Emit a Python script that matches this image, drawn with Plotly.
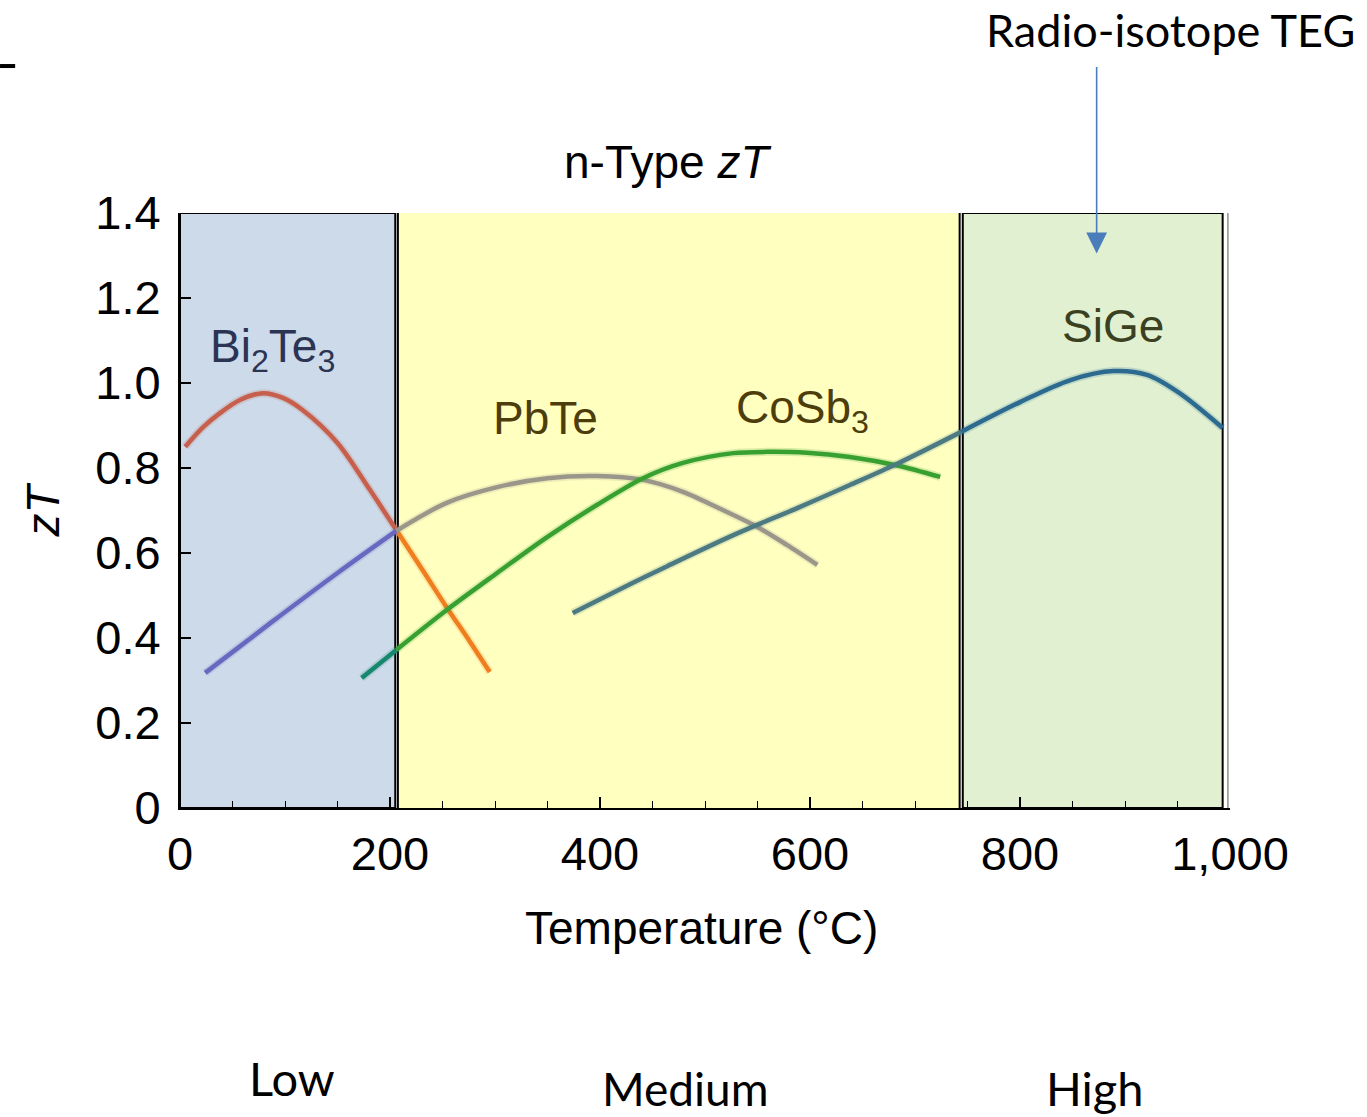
import plotly.graph_objects as go

# ---------------- data ----------------
bi2te3_T = [5, 22, 38, 57, 79, 98, 117, 150, 181, 206, 231, 254, 276, 295]
bi2te3_zT = [0.85, 0.896, 0.929, 0.960, 0.976, 0.965, 0.936, 0.859, 0.748, 0.654, 0.560, 0.472, 0.392, 0.320]

pbte_T = [24, 86, 150, 206, 254, 302, 350, 397, 441, 479, 517, 550, 578, 607]
pbte_zT = [0.318, 0.435, 0.553, 0.652, 0.718, 0.755, 0.776, 0.781, 0.772, 0.744, 0.701, 0.661, 0.619, 0.572]

cosb3_T = [173, 206, 254, 302, 350, 397, 441, 479, 527, 559, 597, 638, 683, 724]
cosb3_zT = [0.306, 0.372, 0.466, 0.553, 0.638, 0.713, 0.776, 0.812, 0.835, 0.838, 0.836, 0.826, 0.806, 0.779]

sige_T = [374, 429, 464, 527, 590, 638, 683, 744, 800, 848, 889, 921, 952, 993]
sige_zT = [0.459, 0.527, 0.569, 0.642, 0.708, 0.760, 0.810, 0.885, 0.955, 1.007, 1.028, 1.019, 0.976, 0.894]

x_tick_vals = [0, 200, 400, 600, 800, 1000]
x_tick_text = ["0", "200", "400", "600", "800", "1,000"]
y_tick_vals = [0, 0.2, 0.4, 0.6, 0.8, 1.0, 1.2, 1.4]
y_tick_text = ["0", "0.2", "0.4", "0.6", "0.8", "1.0", "1.2", "1.4"]

region_names = ["Low", "Medium", "High"]

# ---------------- style ----------------
SANS = "Liberation Sans, Arial, Helvetica, sans-serif"
CAL = "Lato, Carlito, Calibri, Noto Sans, sans-serif"

# region spans (temperature) used for backgrounds and colour splitting
spans = [(0, 206), (206, 744), (744, 1000)]

curves = [
    (bi2te3_T, bi2te3_zT, ["#c65f4c", "#f07d1e", "#f07d1e"]),
    (pbte_T, pbte_zT, ["#6868c0", "#9b968a", "#9b968a"]),
    (cosb3_T, cosb3_zT, ["#17876e", "#38a030", "#38a030"]),
    (sige_T, sige_zT, ["#2e6e90", "#4c7a82", "#2c6a90"]),
]

fig = go.Figure()

for xs, ys, cols in curves:
    for (lo, hi), col in zip(spans, cols):
        sx = [x for x in xs if lo <= x <= hi]
        sy = [y for x, y in zip(xs, ys) if lo <= x <= hi]
        if len(sx) < 2:
            continue
        fig.add_trace(go.Scatter(x=sx, y=sy, mode="lines",
                                 line=dict(color=col, width=8, shape="spline", smoothing=0.9),
                                 opacity=0.18, hoverinfo="skip", showlegend=False))
        fig.add_trace(go.Scatter(x=sx, y=sy, mode="lines",
                                 line=dict(color=col, width=4.5, shape="spline", smoothing=0.9),
                                 hoverinfo="skip", showlegend=False))

shapes = [
    dict(type="rect", xref="x", yref="y", x0=0, x1=205, y0=0, y1=1.4,
         fillcolor="#cddaea", line=dict(color="black", width=2), layer="below"),
    dict(type="rect", xref="x", yref="y", x0=207.5, x1=742.5, y0=-0.004, y1=1.41,
         fillcolor="#ffffc0", line=dict(color="black", width=2), layer="below"),
    dict(type="rect", xref="x", yref="y", x0=745.5, x1=993, y0=0, y1=1.4,
         fillcolor="#e0f0d0", line=dict(color="black", width=2), layer="below"),
    dict(type="line", xref="x", yref="y", x0=998, x1=998, y0=0, y1=1.4,
         line=dict(color="#909090", width=1.5), layer="below"),
    dict(type="line", xref="paper", yref="paper", x0=-0.1714, x1=-0.157, y0=1.247, y1=1.247,
         line=dict(color="black", width=4)),
]

ann = []
def lab(text, x, y, size, color, font=SANS, xref="x", yref="y", **kw):
    ann.append(dict(text=text, x=x, y=y, xref=xref, yref=yref, showarrow=False,
                    font=dict(family=font, size=size, color=color),
                    xanchor="center", yanchor="middle", **kw))

lab("Bi<sub>2</sub>Te<sub>3</sub>", 88, 1.08, 46, "#2b3452")
lab("PbTe", 348, 0.918, 46, "#4d3d0a")
lab("CoSb<sub>3</sub>", 593, 0.935, 46, "#4d3d0a")
lab("SiGe", 889, 1.134, 46, "#3a4020")
lab("n-Type <i>zT</i>", 0.464, 1.0857, 46, "black", xref="paper", yref="paper")
lab("<i>zT</i>", -0.1314, 0.5, 46, "black", xref="paper", yref="paper", textangle=-90)
lab("Temperature (°C)", 0.497, -0.201, 46, "black", xref="paper", yref="paper")
lab(region_names[0], 0.107, -0.454, 47, "black", font=CAL, xref="paper", yref="paper")
lab(region_names[1], 0.481, -0.471, 46, "black", font=CAL, xref="paper", yref="paper")
lab(region_names[2], 0.871, -0.471, 47, "black", font=CAL, xref="paper", yref="paper")
lab("Radio-isotope TEG", 0.943, 1.308, 45, "black", font=CAL, xref="paper", yref="paper")

ann.append(dict(text="", x=873, y=1.305, xref="x", yref="y", showarrow=True,
                ax=0, ay=-188, axref="pixel", ayref="pixel",
                arrowcolor="#4a7ebb", arrowwidth=1.6, arrowhead=2, arrowsize=2.6))

fig.update_layout(
    width=1367, height=1117,
    margin=dict(l=180, r=137, t=213, b=309),
    paper_bgcolor="white", plot_bgcolor="white",
    shapes=shapes, annotations=ann, showlegend=False,
    xaxis=dict(range=[0, 1000], tickvals=x_tick_vals, ticktext=x_tick_text,
               ticks="inside", ticklen=11, tickwidth=1.5, tickcolor="black",
               minor=dict(dtick=50, ticks="inside", ticklen=7, tickwidth=1.2, tickcolor="black"),
               showgrid=False, zeroline=False, showline=True, linecolor="black", linewidth=2,
               tickfont=dict(family=SANS, size=47, color="black"), ticklabelstandoff=4),
    yaxis=dict(range=[0, 1.4], tickvals=y_tick_vals, ticktext=y_tick_text,
               ticks="inside", ticklen=11, tickwidth=1.5, tickcolor="black",
               showgrid=False, zeroline=False, showline=True, linecolor="black", linewidth=2,
               tickfont=dict(family=SANS, size=47, color="black"), ticklabelstandoff=8),
)

fig.write_html("out.html")
